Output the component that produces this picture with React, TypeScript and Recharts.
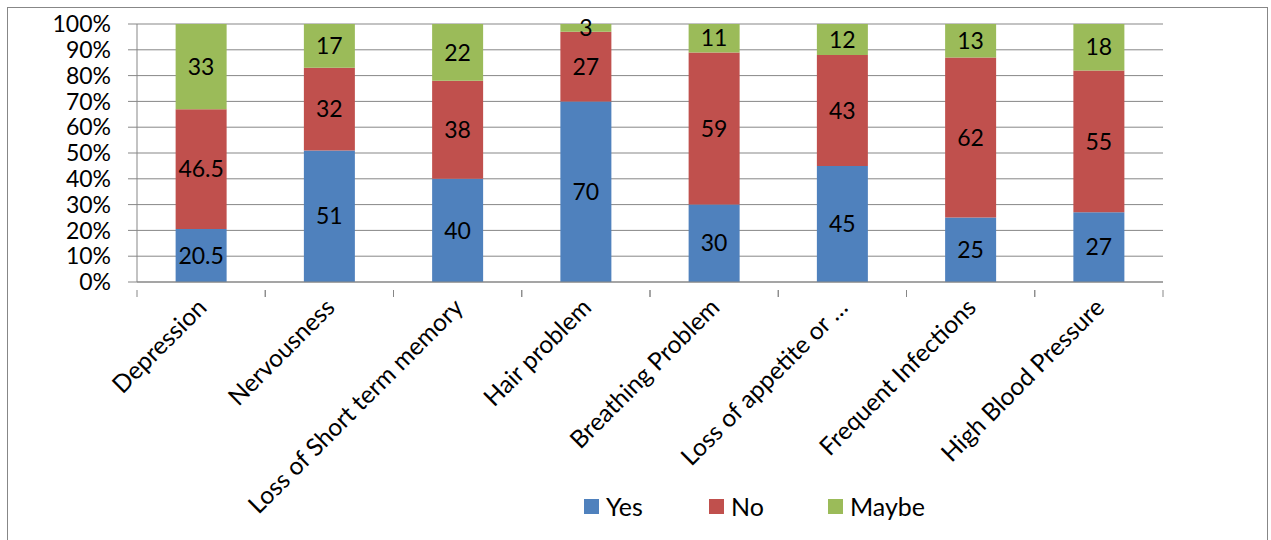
import React from "react";
import {
  BarChart, Bar, XAxis, YAxis, CartesianGrid, LabelList,
} from "recharts";

const categories = [
  "Depression",
  "Nervousness",
  "Loss of Short term memory",
  "Hair problem",
  "Breathing Problem",
  "Loss of appetite or …",
  "Frequent Infections",
  "High Blood Pressure",
];
const yes = [20.5, 51, 40, 70, 30, 45, 25, 27];
const no = [46.5, 32, 38, 27, 59, 43, 62, 55];
const maybe = [33, 17, 22, 3, 11, 12, 13, 18];
const yTicks = [0, 10, 20, 30, 40, 50, 60, 70, 80, 90, 100];
const seriesNames = ["Yes", "No", "Maybe"];
const seriesColors = ["#4F81BD", "#C0504D", "#9BBB59"];

const data = categories.map((name, i) => ({
  name, Yes: yes[i], No: no[i], Maybe: maybe[i],
}));

const FONT = "Lato, 'Open Sans', sans-serif";
const FS = 23;
const GRID = "#878787";
const W = 1271;
const H = 540;
const PLOT_LEFT = 137;
const PLOT_RIGHT = 1163;
const BAND = (PLOT_RIGHT - PLOT_LEFT) / categories.length;

const CategoryTick = (props: any) => {
  const { x, y, payload } = props;
  return (
    <g>
      <line x1={x - BAND / 2} y1={y} x2={x - BAND / 2} y2={y + 7} stroke={GRID} />
      <line x1={x + BAND / 2} y1={y} x2={x + BAND / 2} y2={y + 7} stroke={GRID} />
      <text
        x={0}
        y={0}
        transform={`translate(${x + 7},${y + 19}) rotate(-45)`}
        textAnchor="end"
        fontSize={24.5}
        fill="#000"
        fontFamily={FONT}
      >
        {payload.value}
      </text>
    </g>
  );
};

export default function App() {
  return (
    <div style={{ position: "absolute", left: 0, top: 0, width: W, height: H, background: "#fff", overflow: "hidden" }}>
      <div style={{
        position: "absolute", left: 7, top: 7, width: 1261, height: 560,
        border: `1.5px solid ${GRID}`, boxSizing: "border-box",
      }} />
      <div style={{ position: "absolute", left: 0, top: 0 }}>
        <BarChart
          width={W}
          height={H}
          data={data}
          margin={{ top: 24, right: W - PLOT_RIGHT, left: 0, bottom: 0 }}
          barCategoryGap={(BAND - 51) / 2}
        >
          <CartesianGrid horizontal vertical={false} stroke={GRID} strokeWidth={1} />
          <XAxis
            dataKey="name"
            interval={0}
            height={258}
            axisLine={{ stroke: GRID }}
            tickLine={false}
            tick={<CategoryTick />}
          />
          <YAxis
            width={PLOT_LEFT}
            domain={[0, 100]}
            ticks={yTicks}
            tickFormatter={(v) => `${v}%`}
            axisLine={{ stroke: GRID }}
            tickLine={{ stroke: GRID }}
            tickSize={9}
            tickMargin={17}
            tick={{ fontSize: FS, fill: "#000", fontFamily: FONT }}
            interval={0}
          />
          {seriesNames.map((s, i) => (
            <Bar key={s} dataKey={s} stackId="a" fill={seriesColors[i]} isAnimationActive={false}>
              <LabelList dataKey={s} position="center" fill="#000" fontSize={FS} fontFamily={FONT} />
            </Bar>
          ))}
        </BarChart>
      </div>
      <div style={{
        position: "absolute", top: 489, left: 584, display: "flex",
        fontFamily: FONT, fontSize: 25, alignItems: "center", height: 34,
      }}>
        {seriesNames.map((s, i) => (
          <div key={s} style={{ display: "flex", alignItems: "center", width: i === 0 ? 125 : 119 }}>
            <span style={{ width: 15, height: 15, background: seriesColors[i], display: "inline-block", marginRight: 7 }} />
            <span>{s}</span>
          </div>
        ))}
      </div>
    </div>
  );
}
